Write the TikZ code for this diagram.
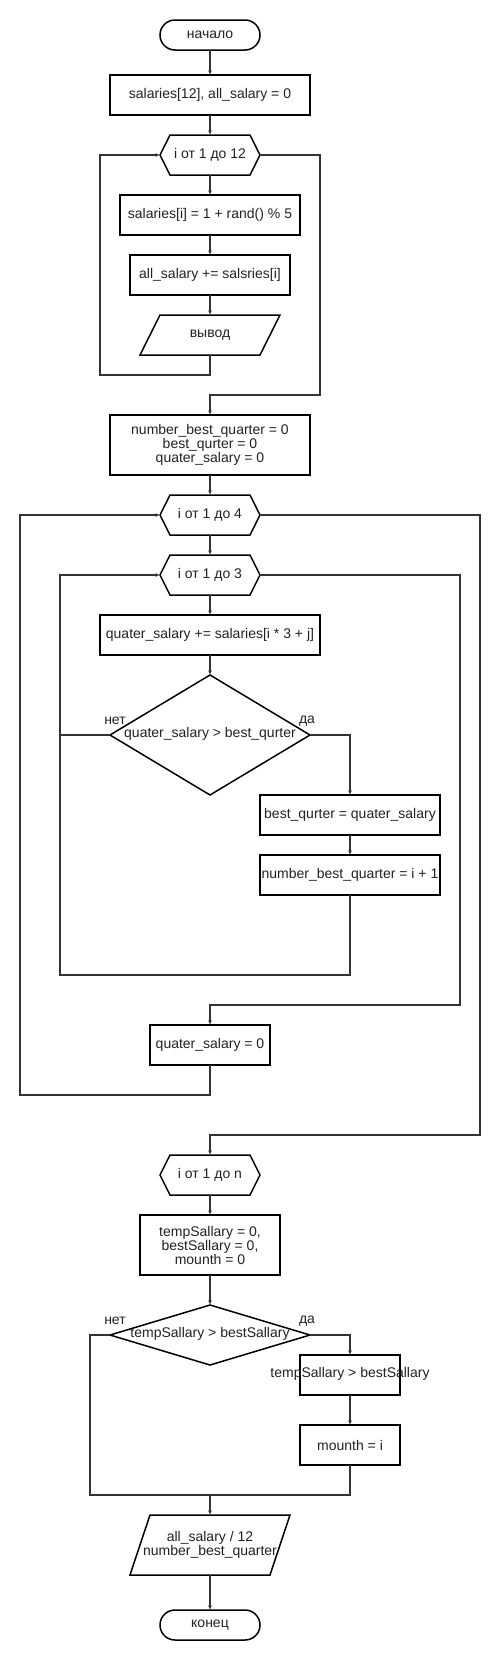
\documentclass[tikz,border=0pt]{standalone}
\usepackage{fontspec}
\setmainfont{Liberation Sans}
\usetikzlibrary{arrows.meta}
\definecolor{ln}{RGB}{51,51,51}
\definecolor{tx}{RGB}{34,34,34}
\begin{document}
\begin{tikzpicture}[x=1pt,y=-1pt,
  every node/.style={font=\fontsize{14}{14}\selectfont, text=tx, inner sep=0pt, outer sep=0pt, align=center},
  box/.style={draw=black, line width=1.5pt, minimum width=#1, minimum height=40pt},
  tall/.style={draw=black, line width=1.5pt, minimum width=#1, minimum height=60pt},
  term/.style={draw=black, line width=1.5pt, rounded corners=15pt, minimum width=100pt, minimum height=30pt},
  hexa/.style={minimum width=100pt, minimum height=40pt},
  frame/.style={minimum width=#1, minimum height=40pt},
  shp/.style={draw=black, line width=1.5pt},
  conn/.style={draw=ln, line width=1.2pt},
  arr/.style={conn, -{Latex[length=4.5pt,width=4pt]}},
  lbl/.style={font=\fontsize{14}{14}\selectfont}
]
\useasboundingbox (0,0) rectangle (500,1660);
\fill[white] (0,0) rectangle (500,1660);

% nodes
\node[term] (start) at (210,35) {начало};
\node[box=200pt] (b1) at (210,95) {salaries[12], all\_salary = 0};
\node[hexa] (h1) at (210,155) {i от 1 до 12};
\node[box=180pt] (b2) at (210,215) {salaries[i] = 1 + rand() \% 5};
\node[box=160pt] (b3) at (210,275) {all\_salary += salsries[i]};
\node[frame=140pt] (p1) at (210,335) {вывод};
\node[tall=200pt] (b4) at (210,445) {number\_best\_quarter = 0\\best\_qurter = 0\\quater\_salary = 0};
\node[hexa] (h2) at (210,515) {i от 1 до 4};
\node[hexa] (h3) at (210,575) {i от 1 до 3};
\node[box=220pt] (b5) at (210,635) {quater\_salary += salaries[i * 3 + j]};
\node[minimum width=200pt, minimum height=120pt] (d1) at (210,735) {};
\node (d1t) at (210,734) {quater\_salary > best\_qurter};
\node[box=180pt] (b6) at (350,815) {best\_qurter = quater\_salary};
\node[box=180pt] (b7) at (350,875) {number\_best\_quarter = i + 1};
\node[box=120pt] (b8) at (210,1045) {quater\_salary = 0};
\node[hexa] (h4) at (210,1175) {i от 1 до n};
\node[tall=140pt] (b9) at (210,1245) {tempSallary = 0,\\bestSallary = 0,\\mounth = 0};
\node[minimum width=200pt, minimum height=60pt] (d2) at (210,1335) {};
\node (d2t) at (210,1334) {tempSallary > bestSallary};
\node[box=100pt] (b10) at (350,1375) {};
\node (b10t) at (350,1374) {tempSallary > bestSallary};
\node[box=100pt] (b11) at (350,1445) {mounth = i};
\node[minimum width=160pt, minimum height=60pt] (p2) at (210,1545) {all\_salary / 12\\number\_best\_quarter};
\node[term] (end) at (210,1625) {конец};

% shapes
\foreach \n in {h1,h2,h3,h4}
  \draw[shp] (\n.west) -- ([xshift=10pt]\n.north west) -- ([xshift=-10pt]\n.north east) -- (\n.east) -- ([xshift=-10pt]\n.south east) -- ([xshift=10pt]\n.south west) -- cycle;
\foreach \n in {d1,d2}
  \draw[shp] (\n.north) -- (\n.east) -- (\n.south) -- (\n.west) -- cycle;
\foreach \n in {p1,p2}
  \draw[shp] ([xshift=20pt]\n.north west) -- (\n.north east) -- ([xshift=-20pt]\n.south east) -- (\n.south west) -- cycle;

% labels
\node[lbl] (n1) at (115,721) {нет};
\node[lbl] (y1) at (307,721) {да};
\node[lbl] (n2) at (115,1321) {нет};
\node[lbl] (y2) at (307,1321) {да};

% connectors
\draw[arr] (start.south) -- (b1.north);
\draw[arr] (b1.south) -- (h1.north);
\draw[arr] (h1.south) -- (b2.north);
\draw[arr] (b2.south) -- (b3.north);
\draw[arr] (b3.south) -- (p1.north);
\draw[arr] (p1.south) -- (210,375) -- (100,375) -- (100,155) -- (h1.west);
\draw[arr] (h1.east) -- (320,155) -- (320,395) -- (210,395) -- (b4.north);
\draw[arr] (b4.south) -- (h2.north);
\draw[arr] (h2.south) -- (h3.north);
\draw[arr] (h3.south) -- (b5.north);
\draw[arr] (b5.south) -- (d1.north);
\draw[arr] (d1.east) -| (b6.north);
\draw[arr] (b6.south) -- (b7.north);
\draw[arr] (b7.south) -- (350,975) -- (60,975) -- (60,575) -- (h3.west);
\draw[conn] (d1.west) -- (60,735);
\draw[arr] (h3.east) -- (460,575) -- (460,1005) -- (210,1005) -- (b8.north);
\draw[arr] (b8.south) -- (210,1095) -- (20,1095) -- (20,515) -- (h2.west);
\draw[arr] (h2.east) -- (480,515) -- (480,1135) -- (210,1135) -- (h4.north);
\draw[arr] (h4.south) -- (b9.north);
\draw[arr] (b9.south) -- (d2.north);
\draw[arr] (d2.east) -| (b10.north);
\draw[arr] (b10.south) -- (b11.north);
\coordinate (m) at (210,1495);
\draw[conn] (b11.south) -- (350,1495) -- (90,1495) -- (90,1335) -- (d2.west);
\draw[arr] (m) -- (p2.north);
\draw[arr] (p2.south) -- (end.north);
\end{tikzpicture}
\end{document}
